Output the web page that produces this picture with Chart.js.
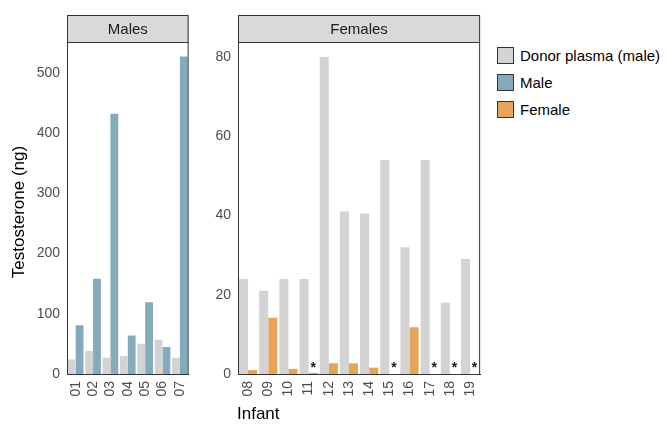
<!DOCTYPE html>
<html><head><meta charset="utf-8">
<script src="https://cdn.jsdelivr.net/npm/chart.js@4"></script>
<style>
body{margin:0;background:#fff;font-family:Arial,"Liberation Sans",sans-serif;}
.c{position:absolute;top:0;height:426px;}
#leg{position:absolute;left:497px;top:42px;font-size:15px;color:#000;}
#leg div{display:flex;align-items:center;height:27px;}
#leg span{display:inline-block;width:15px;height:15px;border:1px solid #333;margin-right:6px;}
#xt{position:absolute;left:237px;top:404px;font-size:17px;}
#yt{position:absolute;left:-56px;top:212px;width:150px;text-align:center;font-size:17px;transform:rotate(-90deg);transform-origin:center;line-height:20px;margin-top:-10px;}
</style></head><body>
<div class="c" style="left:0;width:200px"><canvas id="m"></canvas></div>
<div class="c" style="left:200px;width:290px"><canvas id="f"></canvas></div>
<div id="yt">Testosterone (ng)</div>
<div id="leg">
<div><span style="background:#d3d3d3"></span>Donor plasma (male)</div>
<div><span style="background:#84abbb"></span>Male</div>
<div><span style="background:#e6a45a"></span>Female</div>
</div>
<div id="xt">Infant</div>
<script>
const maleInfants = ["01","02","03","04","05","06","07"];
const maleDonor = [24,38,27,30,50,57,27];
const maleInfant = [81,158,432,64,119,45,527];
const maleTicks = [0,100,200,300,400,500];
const femaleInfants = ["08","09","10","11","12","13","14","15","16","17","18","19"];
const femaleDonor = [24,21,24,24,80,41,40.5,54,32,54,18,29];
const femaleInfant = [1,14.2,1.3,0.3,2.7,2.7,1.6,0,11.8,0,0,0];
const femaleTicks = [0,20,40,60,80];
const belowDetection = [false,false,false,true,false,false,false,true,false,true,true,true];

const panel = {
  id:'panel',
  afterDraw(ch, a, o){
    const c = ch.ctx, ar = ch.chartArea;
    c.save();
    c.fillStyle='#d9d9d9'; c.strokeStyle='#333'; c.lineWidth=1;
    c.fillRect(ar.left, 15, ar.right-ar.left, ar.top-15);
    c.strokeRect(ar.left+0.5, 15.5, ar.right-ar.left-1, ar.top-15);
    c.strokeRect(ar.left+0.5, ar.top+0.5, ar.right-ar.left-1, ar.bottom-ar.top);
    c.fillStyle='#1a1a1a'; c.font='15px Arial'; c.textAlign='center'; c.textBaseline='middle';
    c.fillText(o.title, (ar.left+ar.right)/2, (15+ar.top)/2+1);
    if (o.stars){
      const meta = ch.getDatasetMeta(1);
      c.font='bold 14px Arial';
      o.stars.forEach((s,i)=>{ if(s) c.fillText('*', meta.data[i].x, ar.bottom-6); });
    }
    c.restore();
  }
};

function make(id, labels, donor, infant, col, max, ticks, yw, title, stars){
  new Chart(document.getElementById(id), {
    type:'bar',
    data:{labels, datasets:[
      {data:donor, backgroundColor:'#d3d3d3'},
      {data:infant, backgroundColor:col}
    ]},
    options:{
      responsive:true, maintainAspectRatio:false, animation:false,
      layout:{padding:{top:42,right:4}},
      plugins:{legend:{display:false}, tooltip:{enabled:false}, panel:{title, stars}},
      datasets:{bar:{categoryPercentage:0.9, barPercentage:1}},
      scales:{
        x:{grid:{display:false, tickLength:4, tickColor:'#333'}, border:{color:'#333'},
           ticks:{color:'#4d4d4d', font:{size:14}, maxRotation:90, minRotation:90, autoSkip:false},
           afterFit(s){s.height=52;}},
        y:{min:0, max, grid:{display:false, tickLength:4, tickColor:'#333'}, border:{color:'#333'},
           ticks:{color:'#4d4d4d', font:{size:14}, autoSkip:false},
           afterBuildTicks(s){s.ticks = ticks.map(v=>({value:v}));},
           afterFit(s){s.width=yw;}}
      }
    },
    plugins:[panel]
  });
}
make('m', maleInfants, maleDonor, maleInfant, '#84abbb', 551, maleTicks, 67, 'Males', null);
make('f', femaleInfants, femaleDonor, femaleInfant, '#e6a45a', 83.8, femaleTicks, 38, 'Females', belowDetection);
</script>
</body></html>
